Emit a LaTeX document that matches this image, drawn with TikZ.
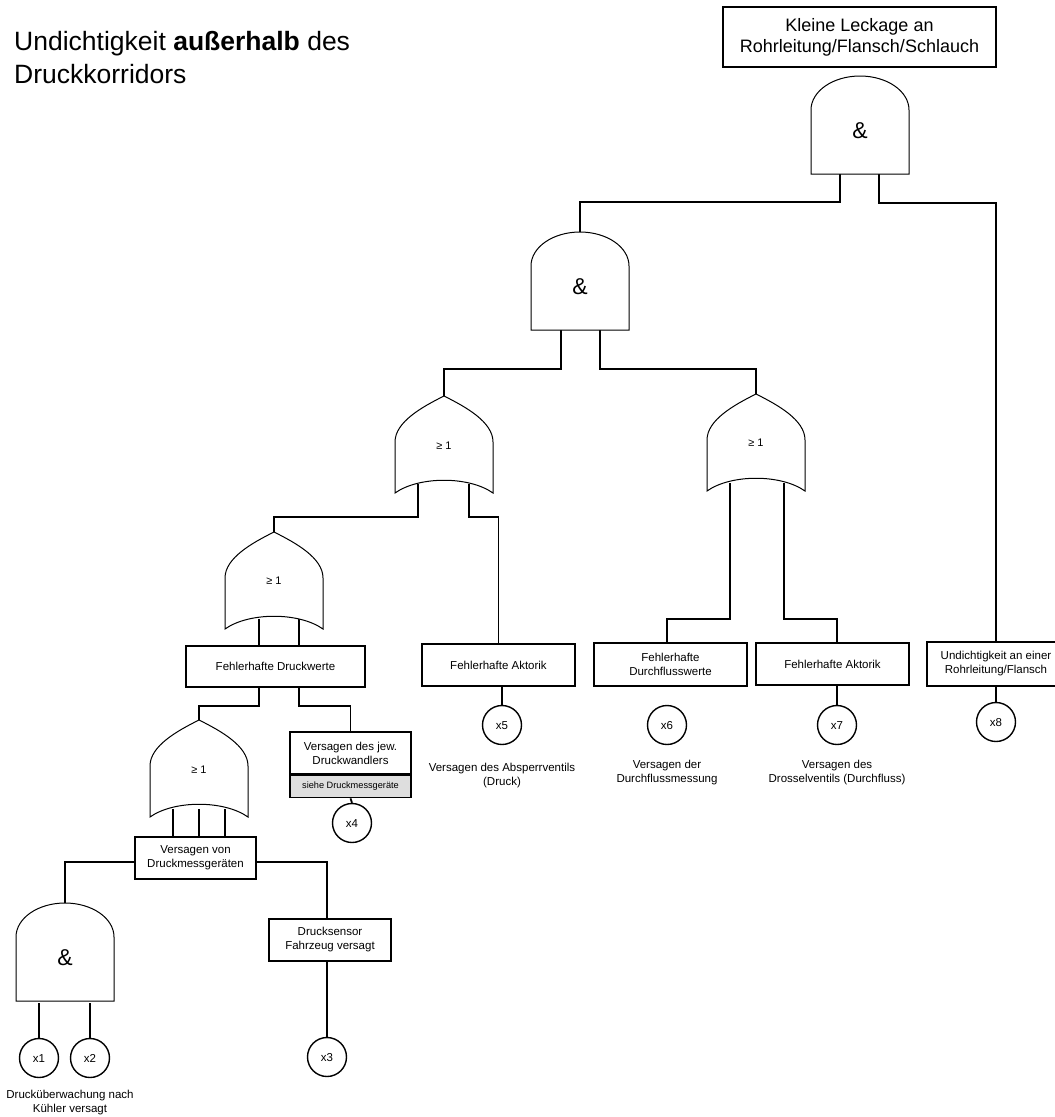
\documentclass[tikz,border=0pt]{standalone}
\usepackage{fontspec}
\setmainfont{Liberation Sans}

% AND gate: #1 = centre x, #2 = y of the top of the dome
\newcommand{\andgateshape}[2]{%
  \draw[gateline] (#1-49,#2+98) -- (#1-49,#2+34)
    .. controls (#1-49,#2+15.2) and (#1-27.1,#2) .. (#1,#2)
    .. controls (#1+27.1,#2) and (#1+49,#2+15.2) .. (#1+49,#2+34)
    -- (#1+49,#2+98) -- cycle;}

% OR gate: #1 = centre x, #2 = y of the pointed top
\newcommand{\orgateshape}[2]{%
  \draw[gateline] (#1-49,#2+97) -- (#1-49,#2+46)
    .. controls (#1-49,#2+26) and (#1-22,#2+11) .. (#1,#2)
    .. controls (#1+22,#2+11) and (#1+49,#2+26) .. (#1+49,#2+46)
    -- (#1+49,#2+97)
    .. controls (#1+25,#2+80) and (#1-25,#2+80) .. (#1-49,#2+97) -- cycle;}

\begin{document}
\begin{tikzpicture}[x=1pt,y=-1pt,
  conn/.style={line width=1.8pt},
  gateline/.style={line width=1pt, fill=white},
  box/.style={draw, line width=1.6pt, fill=white, inner sep=0pt, align=center,
    font=\fontsize{11.5}{14}\selectfont},
  evt/.style={draw, circle, line width=1.4pt, fill=white, minimum size=39pt,
    inner sep=0pt, text height=8.2pt, text depth=0pt, font=\fontsize{11.5}{14}\selectfont},
  note/.style={align=center, inner sep=0pt, font=\fontsize{11.5}{14}\selectfont},
  orlabel/.style={inner sep=0pt, font=\fontsize{11}{13}\selectfont},
  andlabel/.style={inner sep=0pt, font=\fontsize{23}{27}\selectfont},
  titletext/.style={inner sep=0pt, anchor=base west, font=\fontsize{26.5}{33}\selectfont}
]
\clip (0,0) rectangle (1055,1117);
\fill[white] (0,0) rectangle (1055,1117);

% gate inputs and outputs
\coordinate (a0L) at (840,174);  \coordinate (a0R) at (879,174);
\coordinate (a1in) at (580,232); \coordinate (a1L) at (561,330); \coordinate (a1R) at (600,330);
\coordinate (o1in) at (444,396); \coordinate (o1L) at (418,484); \coordinate (o1R) at (469,484);
\coordinate (o2in) at (756,394); \coordinate (o2L) at (730,483); \coordinate (o2R) at (784,483);
\coordinate (o3in) at (274,532); \coordinate (o3L) at (259,619); \coordinate (o3R) at (299,619);
\coordinate (o4in) at (199,720); \coordinate (o4L) at (173,809); \coordinate (o4M) at (199,809);
\coordinate (o4R) at (225,809);
\coordinate (a2in) at (65,903);  \coordinate (a2L) at (39,1003); \coordinate (a2R) at (90,1003);

% title
\node[titletext] (title1) at (14,50) {Undichtigkeit \textbf{außerhalb} des};
\node[titletext] (title2) at (14,83) {Druckkorridors};

% events
\node[box, minimum width=273pt, minimum height=60pt, font=\fontsize{18}{21}\selectfont]
  (top) at (859.5,37) {Kleine Leckage an\\Rohrleitung/Flansch/Schlauch};
\node[box, minimum width=179pt, minimum height=41pt] (fd) at (275.5,666.5) {Fehlerhafte Druckwerte};
\node[box, minimum width=153pt, minimum height=42pt] (fa1) at (498.5,665) {Fehlerhafte Aktorik};
\node[box, minimum width=153pt, minimum height=43pt] (fdw) at (670.5,664.5) {Fehlerhafte\\Durchflusswerte};
\node[box, minimum width=153pt, minimum height=42pt] (fa2) at (832.5,664) {Fehlerhafte Aktorik};
\node[box, minimum width=138pt, minimum height=44pt] (ur) at (996,664) {Undichtigkeit an einer\\Rohrleitung/Flansch};
\node[box, minimum width=121pt, minimum height=42pt] (vm) at (195.5,858) {Versagen von\\Druckmessgeräten};
\node[box, minimum width=122pt, minimum height=42pt] (ds) at (330,940) {Drucksensor\\Fahrzeug versagt};
\node[box, minimum width=121pt, minimum height=42pt] (vd) at (350.5,753) {Versagen des jew.\\Druckwandlers};
\node[box, minimum width=121pt, minimum height=22pt, fill=black!13, anchor=north,
  font=\fontsize{9.2}{11}\selectfont] (vdg) at (vd.south) {siehe Druckmessgeräte};

% basic events
\node[evt] (x1) at (39,1058) {x1};
\node[evt] (x2) at (90,1058) {x2};
\node[evt] (x3) at (327,1057) {x3};
\node[evt] (x4) at (352,823) {x4};
\node[evt] (x5) at (502,725) {x5};
\node[evt] (x6) at (667,725) {x6};
\node[evt] (x7) at (837,725) {x7};
\node[evt] (x8) at (996,722) {x8};

% connectors
\draw[conn] (a0L) -- ++(0,28) -| (a1in);
\draw[conn] (a0R) -- ++(0,29) -| (ur.north);
\draw[conn] (a1L) -- ++(0,39) -| (o1in);
\draw[conn] (a1R) -- ++(0,39) -| (o2in);
\draw[conn] (o1L) -- ++(0,33) -| (o3in);
\draw[conn] (o1R) -- ++(0,33) -| (fa1.north);
\draw[conn] (o2L) -- ++(0,136) -| (x6 |- fdw.north);
\draw[conn] (o2R) -- ++(0,136) -| (x7 |- fa2.north);
\draw[conn] (o3L) -- (o3L |- fd.north);
\draw[conn] (o3R) -- (o3R |- fd.north);
\draw[conn] (o3L |- fd.south) -- ++(0,18) -| (o4in);
\draw[conn] (o3R |- fd.south) -- ++(0,18) -| (vd.north);
\draw[conn] (o4L) -- (o4L |- vm.north);
\draw[conn] (o4M) -- (o4M |- vm.north);
\draw[conn] (o4R) -- (o4R |- vm.north);
\draw[conn] ([yshift=-4pt]vm.west) -| (a2in);
\draw[conn] ([yshift=-4pt]vm.east) -| (x3 |- ds.north);
\draw[conn] (x3 |- ds.south) -- (x3.north);
\draw[conn] (a2L) -- (x1.north);
\draw[conn] (a2R) -- (x2.north);
\draw[conn] (vdg.south) -- (x4.north);
\draw[conn] (x5 |- fa1.south) -- (x5.north);
\draw[conn] (x7 |- fa2.south) -- (x7.north);
\draw[conn] (ur.south) -- (x8.north);

% gates
\andgateshape{860}{76}
\andgateshape{580}{232}
\andgateshape{65}{903}
\orgateshape{444}{396}
\orgateshape{756}{394}
\orgateshape{274}{532}
\orgateshape{199}{720}

\node[andlabel] (gA0) at (860,131) {\&};
\node[andlabel] (gA1) at (580,287) {\&};
\node[andlabel] (gA2) at (65,958) {\&};
\node[orlabel] (gO1) at (444,446) {≥ 1};
\node[orlabel] (gO2) at (756,443) {≥ 1};
\node[orlabel] (gO3) at (274,581) {≥ 1};
\node[orlabel] (gO4) at (199,770) {≥ 1};

% descriptions of basic events
\node[note] (n1) at (70,1103) {Drucküberwachung nach\\Kühler versagt};
\node[note] (n5) at (502,776) {Versagen des Absperrventils\\(Druck)};
\node[note] (n6) at (667,773) {Versagen der\\Durchflussmessung};
\node[note] (n7) at (837,773) {Versagen des\\Drosselventils (Durchfluss)};
\end{tikzpicture}
\end{document}
